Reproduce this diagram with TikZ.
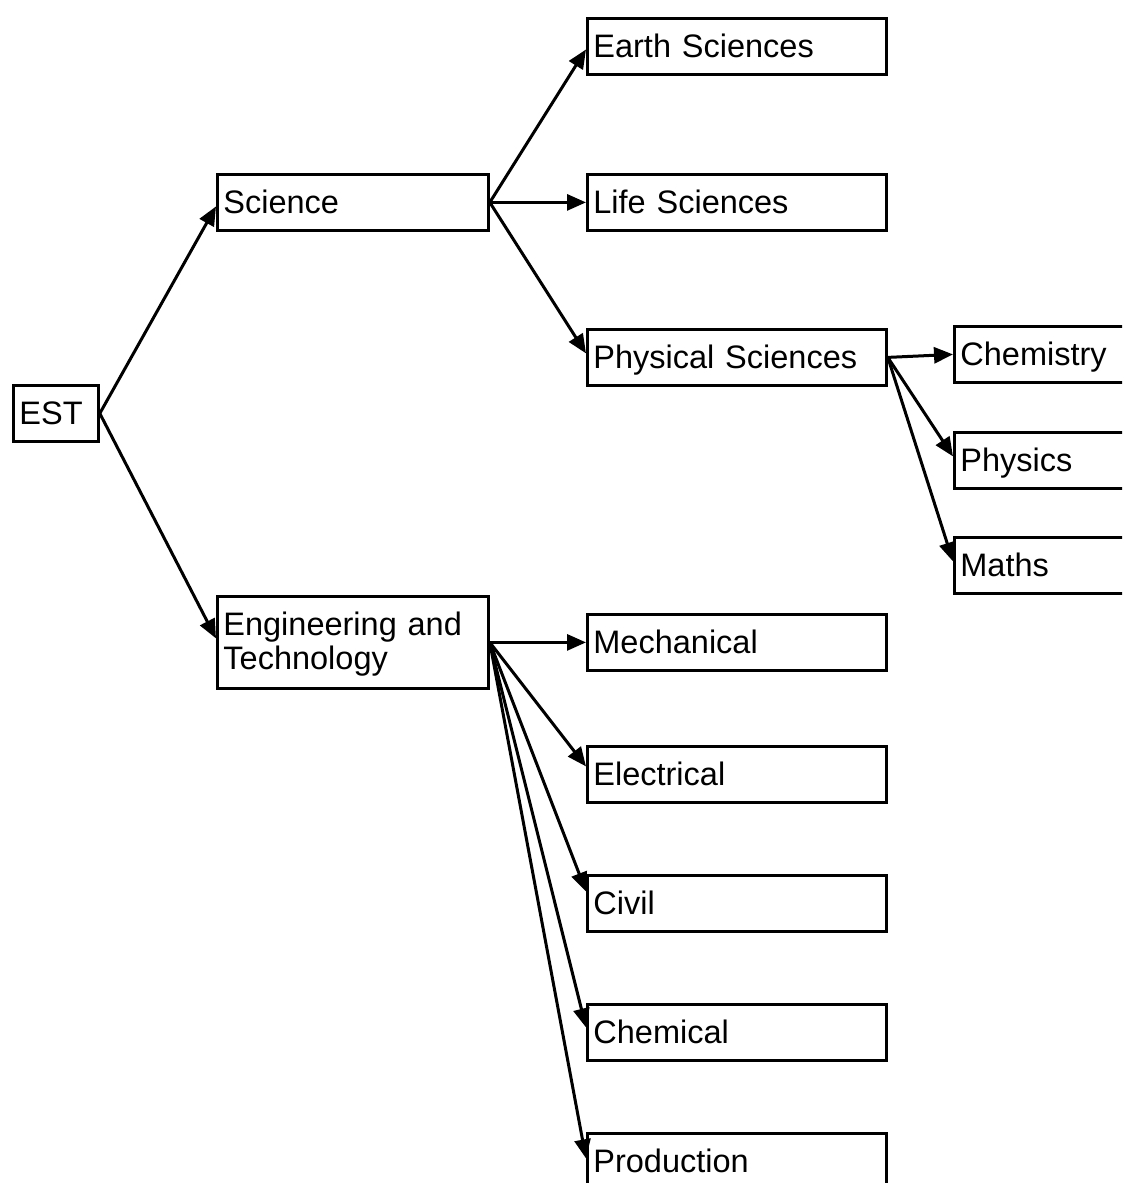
\documentclass[tikz,border=0pt]{standalone}
\usepackage{fontspec}
\setmainfont{Liberation Sans}
\usetikzlibrary{arrows.meta}
\begin{document}
\begin{tikzpicture}[x=1pt,y=-1pt,
  box/.style={draw, line width=2.8pt, anchor=north west, inner xsep=6pt,
    inner ysep=0pt, align=left, text height=23pt, text depth=0pt,
    minimum height=56pt, font=\fontsize{32.5}{34}\selectfont},
  conn/.style={line width=3pt, -{Triangle[length=19pt,width=16pt]}}
]
\useasboundingbox (0,0) rectangle (1122,1183);
\clip (0,0) rectangle (1122,1183);

% root and first level
\node[box, text width=73pt] (est) at (12,384) {EST};
\node[box, text width=259pt] (sci) at (216,173) {Science};
\node[box, text width=259pt, minimum height=92pt, text depth=37pt] (eng) at (216,595) {Engineering and\\Technology};

% science branches
\node[box, text width=287pt] (earth) at (586,17) {Earth Sciences};
\node[box, text width=287pt] (life) at (586,173) {Life Sciences};
\node[box, text width=287pt] (phys) at (586,328) {Physical Sciences};

% physical sciences branches
\node[box, text width=188pt] (chemistry) at (953,325) {Chemistry};
\node[box, text width=188pt] (physics) at (953,431) {Physics};
\node[box, text width=188pt] (maths) at (953,536) {Maths};

% engineering branches
\node[box, text width=287pt] (mech) at (586,613) {Mechanical};
\node[box, text width=287pt] (elec) at (586,745) {Electrical};
\node[box, text width=287pt] (civil) at (586,874) {Civil};
\node[box, text width=287pt] (chem) at (586,1003) {Chemical};
\node[box, text width=287pt] (prod) at (586,1132) {Production};

% connectors
\draw[conn] (est.east) -- ([yshift=-4pt]sci.west);
\draw[conn] (est.east) -- ([yshift=4pt]eng.west);

\draw[conn] (sci.east) -- ([yshift=-3pt]earth.west);
\draw[conn] (sci.east) -- (life.west);
\draw[conn] (sci.east) -- ([yshift=4pt]phys.west);

\draw[conn] (phys.east) -- (chemistry.west);
\draw[conn] (phys.east) -- ([yshift=4pt]physics.west);
\draw[conn] (phys.east) -- ([yshift=4pt]maths.west);

\draw[conn] (eng.east) -- (mech.west);
\draw[conn] (eng.east) -- ([yshift=8pt]elec.west);
\draw[conn] (eng.east) -- ([yshift=12pt]civil.west);
\draw[conn] (eng.east) -- ([yshift=5pt]chem.west);
\draw[conn] (eng.east) -- ([yshift=3pt]prod.west);
\end{tikzpicture}
\end{document}
